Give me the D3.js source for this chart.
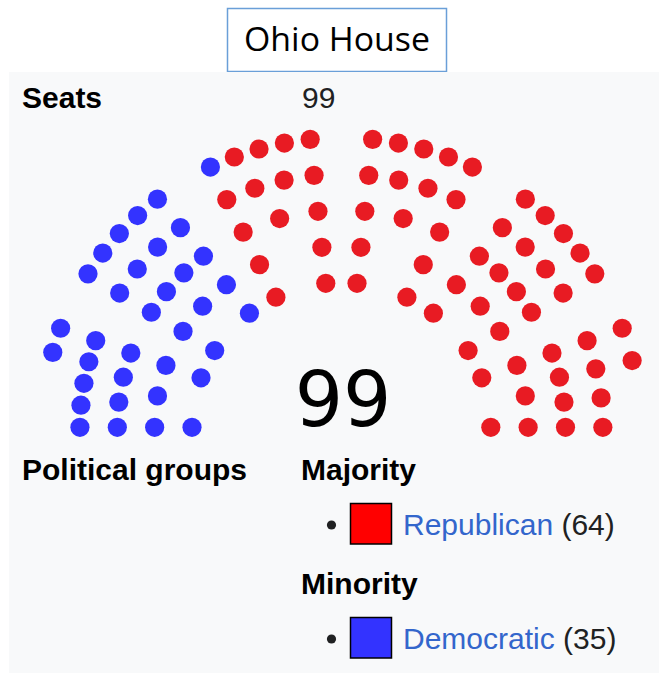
<!DOCTYPE html>
<html>
<head>
<meta charset="utf-8">
<script src="https://cdn.jsdelivr.net/npm/d3@7"></script>
<style>
  html, body { margin: 0; padding: 0; background: #ffffff; }
  svg { display: block; }
</style>
</head>
<body>
<svg id="chart" width="659" height="675"></svg>
<script>
// ---------------- data ----------------
const title = "Ohio House";
const totalSeats = 99;
const parties = ["Republican", "Democratic"];          // legend order
const partySeats = [64, 35];
const groupLabels = ["Majority", "Minority"];
const dotColors = ["#E81B23", "#3333FF"];
const legendColors = ["#FF0000", "#3333FF"];
const seatingOrder = ["Democratic", "Republican"];     // left to right in chamber

// chamber layout: 6 wedge sections, 5 rows each (inner -> outer)
const rowSeats = [[2,3,4,5,2],[2,3,4,4,5],[2,2,3,4,5],[2,2,3,4,5],[2,3,4,4,5],[2,3,4,4,2]];
const rowSlots = [[2,3,4,5,5],[2,3,4,4,5],[2,2,3,4,5],[2,2,3,4,5],[2,3,4,4,5],[2,3,4,4,4]];

// ---------------- drawing ----------------
const svg = d3.select("#chart");
const W = 659, H = 675;
const FONT = "'Liberation Sans', Arial, Helvetica, sans-serif";
const FS = 30;

// title box
svg.append("rect").attr("x", 227.5).attr("y", 8.5).attr("width", 219).attr("height", 63)
  .attr("fill", "#ffffff").attr("stroke", "#6A9FD8").attr("stroke-width", 1.5);
svg.append("text").attr("x", 337).attr("y", 50.5)
  .attr("text-anchor", "middle")
  .attr("font-family", "'Open Sans', 'Noto Sans', sans-serif").attr("font-size", 32)
  .attr("textLength", 186).attr("lengthAdjust", "spacingAndGlyphs")
  .attr("fill", "#000").text(title);

// infobox panel
svg.append("rect").attr("x", 9).attr("y", 72).attr("width", W - 9).attr("height", 601)
  .attr("fill", "#F8F9FA");

const label = (x, y, txt, bold, fill) => svg.append("text")
  .attr("x", x).attr("y", y).attr("font-family", FONT).attr("font-size", FS)
  .attr("font-weight", bold ? "bold" : "normal").attr("fill", fill || "#202122").text(txt);

label(22, 108, "Seats", true, "#000");
label(302, 108, String(totalSeats), false);

// ---------- parliament hemicycle ----------
const cx = 341.4, cy = 427.3, R = 298.8, yRatio = 0.969;
const x = d3.scaleLinear().domain([-1, 1]).range([cx - R, cx + R]);
const y = d3.scaleLinear().domain([0, 1]).range([cy, cy - R * yRatio]);
const nSections = rowSeats.length;
const sectionStart = d3.scaleLinear().domain([0, nSections]).range([0, 192]); // degrees
const sectionWidth = 20;
const rowRadius = d3.scaleLinear().domain([0, 4]).range([0.5, 1.0]);

// build seats: sections left->right, rows outer->inner, angle increasing
const seatList = [];
rowSeats.forEach((rows, s) => {
  for (let r = rows.length - 1; r >= 0; r--) {
    const n = rows[r], slots = rowSlots[s][r];
    const a0 = sectionStart(s);
    const step = slots > 1 ? sectionWidth / (slots - 1) : 0;
    // partial rows are filled toward the chamber centre
    const first = s < nSections / 2 ? slots - n : 0;
    for (let k = first; k < first + n; k++) {
      seatList.push({ angle: a0 + k * step, radius: rowRadius(r) });
    }
  }
});

// assign parties in seating order
let idx = 0;
seatingOrder.forEach(p => {
  const pi = parties.indexOf(p);
  for (let i = 0; i < partySeats[pi]; i++) {
    if (seatList[idx]) seatList[idx].party = pi;
    idx++;
  }
});

const toRad = Math.PI / 180;
svg.append("g").selectAll("circle").data(seatList).join("circle")
  .attr("cx", d => x(-d.radius * Math.cos(d.angle * toRad)))
  .attr("cy", d => y(d.radius * Math.sin(d.angle * toRad)))
  .attr("r", 9.6)
  .attr("fill", d => dotColors[d.party]);

svg.append("text").attr("x", 343).attr("y", 426)
  .attr("text-anchor", "middle")
  .attr("font-family", "'DejaVu Sans', sans-serif").attr("font-size", 76)
  .attr("fill", "#000").text(totalSeats);

// ---------- political groups ----------
label(22, 480, "Political groups", true, "#000");

const groupY = d3.scaleLinear().domain([0, 1]).range([480, 594]);
parties.forEach((p, i) => {
  const gy = groupY(i);
  label(301, gy, groupLabels[i], true, "#000");
  const ry = gy + 55;
  svg.append("circle").attr("cx", 331.5).attr("cy", ry - 10).attr("r", 4.6).attr("fill", "#202122");
  svg.append("rect").attr("x", 350.5).attr("y", ry - 31.5).attr("width", 41).attr("height", 40.5)
    .attr("fill", legendColors[i]).attr("stroke", "#000").attr("stroke-width", 1.5);
  const t = svg.append("text").attr("x", 403).attr("y", ry)
    .attr("font-family", FONT).attr("font-size", FS);
  t.append("tspan").attr("fill", "#3366CC").text(p);
  t.append("tspan").attr("fill", "#202122").text(" (" + partySeats[i] + ")");
});
</script>
</body>
</html>
